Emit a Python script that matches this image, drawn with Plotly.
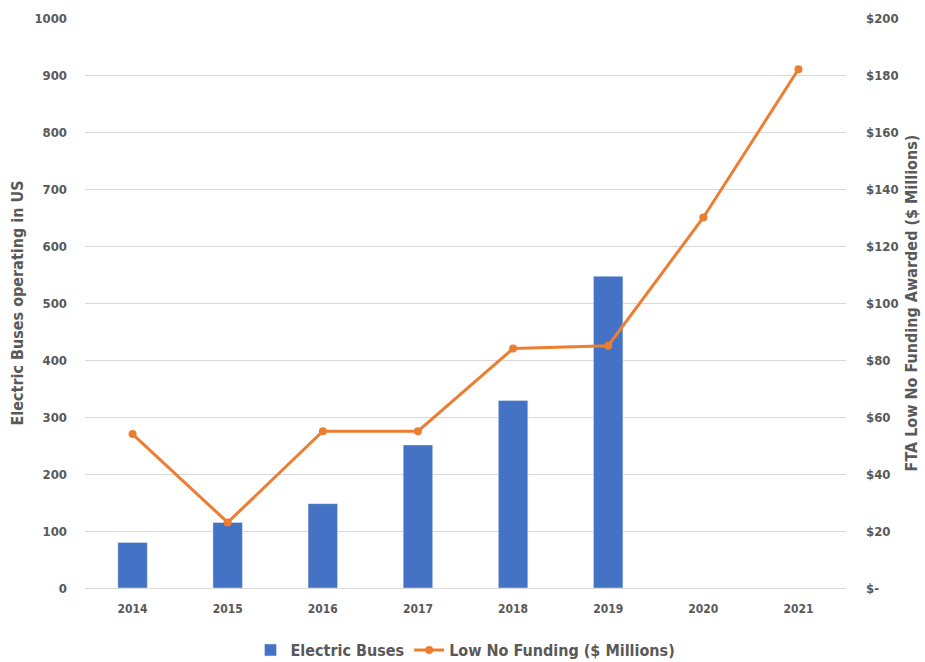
import plotly.graph_objects as go

years = ["2014", "2015", "2016", "2017", "2018", "2019", "2020", "2021"]
electric_buses = [80, 115, 148, 251, 329, 547, None, None]
low_no_funding = [54, 23, 55, 55, 84, 85, 130, 182]

left_ticks = [0, 100, 200, 300, 400, 500, 600, 700, 800, 900, 1000]
right_ticks = [0, 20, 40, 60, 80, 100, 120, 140, 160, 180, 200]
right_labels = ["$-", "$20", "$40", "$60", "$80", "$100", "$120", "$140", "$160", "$180", "$200"]

FONT = "DejaVu Sans Condensed, DejaVu Sans, sans-serif"
GREY = "#595959"

def f(size):
    return dict(family=FONT, color=GREY, size=size, weight="bold")

fig = go.Figure()
fig.add_trace(go.Bar(
    x=years, y=electric_buses, name="Electric Buses",
    marker=dict(color="#4472C4"), width=0.31, yaxis="y",
))
fig.add_trace(go.Scatter(
    x=years, y=low_no_funding, name="Low No Funding ($ Millions)",
    mode="lines+markers", line=dict(color="#ED7D31", width=3),
    marker=dict(color="#ED7D31", size=8), yaxis="y2",
))

fig.update_layout(
    width=925, height=662,
    margin=dict(l=85, r=79, t=18, b=74, autoexpand=False),
    paper_bgcolor="white", plot_bgcolor="white",
    font=f(13),
    showlegend=True,
    legend=dict(orientation="h", x=0.5, xanchor="center", yref="container", y=0.018,
                yanchor="middle", font=f(16), traceorder="normal"),
    xaxis=dict(type="category", range=[-0.5, 7.5], showgrid=False, zeroline=False,
               showline=False, ticks="", ticklabelstandoff=12, tickfont=f(12)),
    yaxis=dict(range=[0, 1000], tickvals=left_ticks, showgrid=True, gridcolor="#d9d9d9",
               gridwidth=1, zeroline=True, zerolinecolor="#d9d9d9", zerolinewidth=1,
               ticks="", ticklabelstandoff=17, tickfont=f(13),
               title=dict(text="Electric Buses operating in US", standoff=6, font=f(16))),
    yaxis2=dict(range=[0, 200], tickvals=right_ticks, ticktext=right_labels,
                overlaying="y", side="right", showgrid=False, zeroline=False,
                ticks="", ticklabelstandoff=19, tickfont=f(13),
                title=dict(text="FTA Low No Funding Awarded ($ Millions)", standoff=8, font=f(16))),
)
fig.write_html("out.html")
